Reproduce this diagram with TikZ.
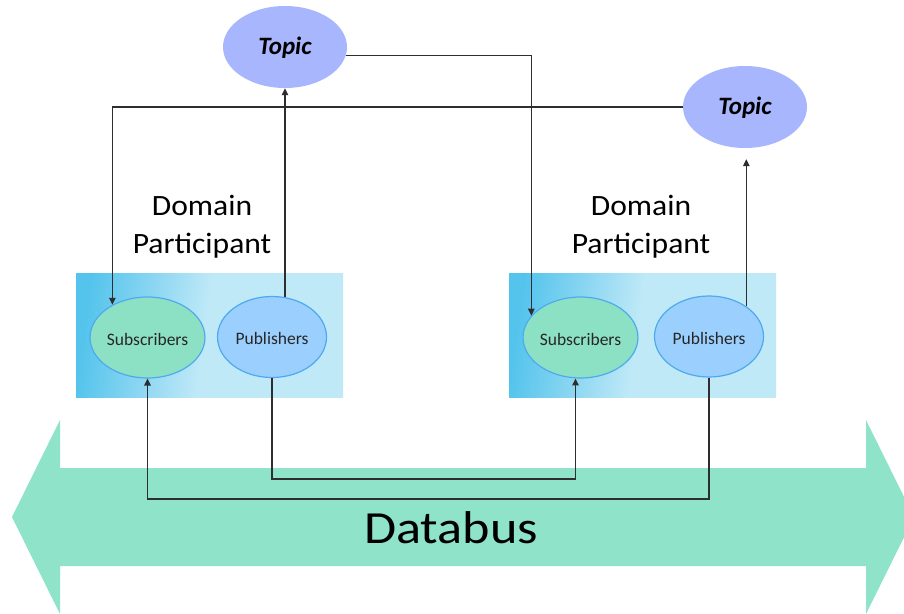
\documentclass[tikz,border=0pt]{standalone}
\usepackage{fontspec}
\setmainfont{Carlito}
\newfontfamily\dpfont[FakeStretch=1.07]{Carlito}
\newfontfamily\busfont[FakeStretch=1.135]{Carlito}
\usetikzlibrary{shapes.geometric,arrows.meta,calc}

\definecolor{topicfill}{HTML}{A8B6FD}
\definecolor{subfill}{HTML}{8CE1C5}
\definecolor{pubfill}{HTML}{9BCFFD}
\definecolor{rimblue}{HTML}{4FA9EE}
\definecolor{busgreen}{HTML}{8EE3C9}
\definecolor{dpA}{HTML}{55C4EC}
\definecolor{dpB}{HTML}{8ED7F2}
\definecolor{dpC}{HTML}{BFE9F7}
\definecolor{wire}{HTML}{2E2E2E}

% participant panel: deep cyan on the left fading to pale cyan
\pgfdeclarehorizontalshading{dpshade}{100bp}{color(0bp)=(dpA); color(25bp)=(dpA); color(38bp)=(dpB); color(49bp)=(dpC); color(100bp)=(dpC)}

\tikzset{
  topicnode/.style={ellipse, fill=topicfill, draw=none, minimum width=124pt, minimum height=82pt,
    inner sep=0pt, text height=14pt, text depth=0pt, font=\fontsize{25}{25}\selectfont\bfseries\itshape},
  subnode/.style={ellipse, fill=subfill, draw=rimblue, line width=1.2pt, minimum width=109pt,
    minimum height=81pt, inner sep=0pt, text height=15pt, text depth=0pt, text=black!85,
    font=\fontsize{17.5}{17.5}\selectfont},
  pubnode/.style={subnode, fill=pubfill},
  panel/.style={rectangle, shading=dpshade, shading angle=-8, draw=none, minimum width=267pt,
    minimum height=124pt, inner sep=0pt},
  dplabel/.style={align=center, inner sep=0pt, anchor=north, font=\dpfont\fontsize{29.5}{38}\selectfont},
  wireline/.style={draw=wire, line width=1.3pt, -{Triangle[length=7pt,width=6.5pt]}}
}

\begin{document}
\begin{tikzpicture}[x=1pt, y=-1pt]
\clip (0,0) rectangle (904,613);
\fill[white] (0,0) rectangle (904,613);

% the databus: a double-headed block arrow
\fill[busgreen] (12,517) -- (60,420) -- (60,468) -- (866,468) -- (866,420) -- (914,517)
  -- (866,614) -- (866,566) -- (60,566) -- (60,614) -- cycle;
\node[anchor=base, inner sep=0pt, font=\busfont\fontsize{46}{46}\selectfont] (bus) at (451,543) {Databus};

% participant panels
\node[panel] (box1) at (209.5,335) {};
\node[panel] (box2) at (642.5,335) {};

\node[dplabel] (dp1) at (202,195) {Domain\\Participant};
\node[dplabel] (dp2) at (641,195) {Domain\\Participant};

% entities
\node[subnode] (sub1) at (147.5,337.5) {Subscribers};
\node[pubnode] (pub1) at (272,337) {Publishers};
\node[subnode] (sub2) at (580.5,337.5) {Subscribers};
\node[pubnode] (pub2) at (709,336.5) {Publishers};

% topics
\node[topicnode] (t1) at (285,47) {Topic};
\node[topicnode] (t2) at (745,107) {Topic};

% topic subscriptions
\draw[wireline] (t2.west) -| (sub1.137);
\draw[wireline] (t1.-8.5) -| (sub2.156);

% publications into topics
\draw[wireline] (pub1.72) -- (pub1.72 |- t1.south);
\draw[wireline] (pub2.39) -- ($(pub2.39 |- t2.south)+(0,11)$);

% data flow along the bus
\draw[wireline] (pub1.south) -- (pub1.south |- 0,479) -| (sub2.263);
\draw[wireline] (pub2.south) -- (pub2.south |- 0,499) -| (sub1.south);
\end{tikzpicture}
\end{document}
